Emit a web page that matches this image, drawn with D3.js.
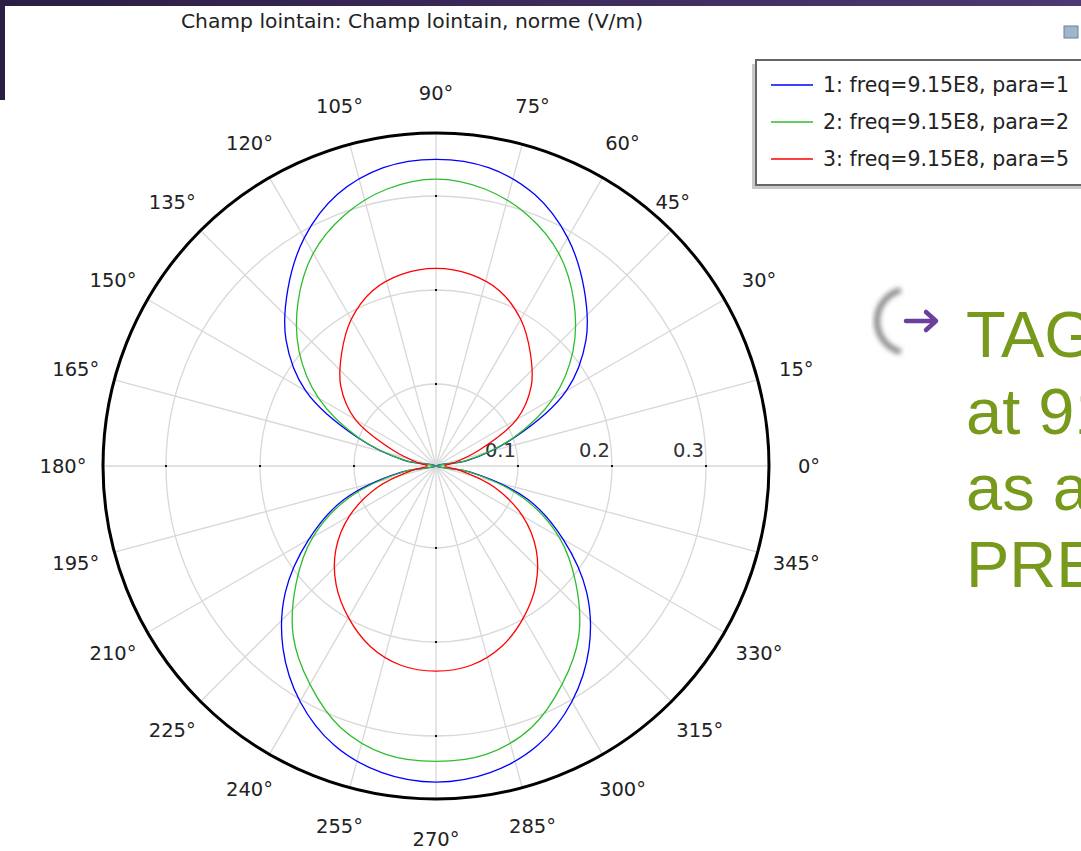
<!doctype html>
<html>
<head>
<meta charset="utf-8">
<script src="https://cdnjs.cloudflare.com/ajax/libs/d3/7.8.5/d3.min.js"></script>
<style>
  body { margin: 0; background: #fff; overflow: hidden; }
  svg { display: block; }
</style>
</head>
<body>
<svg id="chart" width="1081" height="851"></svg>
<script>
var angleDeg = [0,10,20,30,40,50,60,70,80,90,100,110,120,130,140,150,160,170,
                180,190,200,210,220,230,240,250,260,270,280,290,300,310,320,330,340,350];

// field norm (V/m) for each parameter value
var para1 = [0.013,0.047,0.102,0.173,0.221,0.258,0.293,0.320,0.335,0.339,0.335,0.320,0.293,0.258,0.221,0.173,0.102,0.047,
             0.013,0.050,0.117,0.169,0.222,0.266,0.302,0.329,0.344,0.349,0.344,0.329,0.302,0.266,0.222,0.169,0.117,0.050];
var para2 = [0.013,0.045,0.100,0.157,0.203,0.241,0.274,0.297,0.312,0.318,0.312,0.297,0.274,0.241,0.203,0.157,0.100,0.045,
             0.013,0.048,0.111,0.164,0.207,0.249,0.281,0.309,0.324,0.327,0.324,0.309,0.281,0.249,0.207,0.164,0.111,0.048];
var para5 = [0.022,0.032,0.061,0.112,0.145,0.169,0.193,0.211,0.220,0.223,0.220,0.211,0.193,0.169,0.145,0.112,0.061,0.032,
             0.022,0.038,0.079,0.119,0.152,0.178,0.199,0.217,0.228,0.231,0.228,0.217,0.199,0.178,0.152,0.119,0.079,0.038];

var seriesNames = ["1: freq=9.15E8, para=1", "2: freq=9.15E8, para=2", "3: freq=9.15E8, para=5"];
var seriesColors = ["#0000ff", "#2ebd2e", "#ff0000"];

var radialTicks = [0.1, 0.2, 0.3];
var angleTicks = [0,15,30,45,60,75,90,105,120,135,150,165,180,195,210,225,240,255,270,285,300,315,330,345];

var titleText = "Champ lointain: Champ lointain, norme (V/m)";
var slideLines = ["TAG", "at 91", "as a", "PRE"];

var svg = d3.select("#chart");
var font = "'DejaVu Sans', sans-serif";
var defs = svg.append("defs");

// slide frame (purple band top + left)
var grad = defs.append("linearGradient").attr("id", "band");
grad.append("stop").attr("offset", "0%").attr("stop-color", "#2c1d44");
grad.append("stop").attr("offset", "100%").attr("stop-color", "#4c3872");
svg.append("rect").attr("x", 0).attr("y", 0).attr("width", 1081).attr("height", 6).attr("fill", "url(#band)");
svg.append("rect").attr("x", 0).attr("y", 0).attr("width", 5).attr("height", 100).attr("fill", "#2c1d44");

// little toolbar icon, top right
svg.append("rect").attr("x", 1064).attr("y", 26).attr("width", 14).attr("height", 12)
    .attr("fill", "#9fb6cf").attr("stroke", "#6f7f94");

// title
svg.append("text").attr("x", 412).attr("y", 28).attr("text-anchor", "middle")
    .style("font-family", font).style("font-size", "20.3px").attr("fill", "#222")
    .text(titleText);

var cx = 436, cy = 466, R = 333;
var g = svg.append("g").attr("transform", "translate(" + cx + "," + cy + ")");

var r = d3.scaleLinear().domain([0.0128, 0.367]).range([0, R]).clamp(true);
var toRad = function(d) { return d * Math.PI / 180; };

// grid circles
g.selectAll("circle.grid").data(radialTicks).enter().append("circle")
    .attr("class", "grid").attr("r", d => r(d))
    .attr("fill", "none").attr("stroke", "#d8d8d8").attr("stroke-width", 1.3);

// spokes
g.selectAll("line.spoke").data(angleTicks).enter().append("line")
    .attr("class", "spoke")
    .attr("x1", 0).attr("y1", 0)
    .attr("x2", d => R * Math.cos(toRad(d)))
    .attr("y2", d => -R * Math.sin(toRad(d)))
    .attr("stroke", "#d8d8d8").attr("stroke-width", 1.3);

// tick dots on the main axes
var dots = [];
[0, 90, 180, 270].forEach(a => radialTicks.forEach(t => dots.push({a: a, t: t})));
g.selectAll("rect.tick").data(dots).enter().append("rect")
    .attr("class", "tick")
    .attr("x", d => r(d.t) * Math.cos(toRad(d.a)) - 1)
    .attr("y", d => -r(d.t) * Math.sin(toRad(d.a)) - 1)
    .attr("width", 2).attr("height", 2).attr("fill", "#111");

// radial tick labels
g.selectAll("text.rlab").data(radialTicks).enter().append("text")
    .attr("class", "rlab")
    .attr("x", d => r(d) - 2).attr("y", -9)
    .attr("text-anchor", "end")
    .style("font-family", font).style("font-size", "19.5px").attr("fill", "#333")
    .text(d => d3.format(".1f")(d));

// curves
var allSeries = [para1, para2, para5];
var line = d3.lineRadial()
    .angle(d => toRad(90 - d.deg))
    .radius(d => r(d.v))
    .curve(d3.curveCatmullRomClosed);

g.selectAll("path.series").data(allSeries).enter().append("path")
    .attr("class", "series")
    .attr("d", vals => line(vals.map((v, i) => ({deg: angleDeg[i], v: v}))))
    .attr("fill", "none")
    .attr("stroke", (d, i) => seriesColors[i])
    .attr("stroke-width", 1.3);

// outer ring
g.append("circle").attr("r", R).attr("fill", "none").attr("stroke", "#000").attr("stroke-width", 3);

// angle labels
var nudge = {45: -27};
g.selectAll("text.alab").data(angleTicks).enter().append("text")
    .attr("class", "alab")
    .attr("x", d => 373 * Math.cos(toRad(d)) + (nudge[d] || 0))
    .attr("y", d => -373 * Math.sin(toRad(d)))
    .attr("dy", "0.36em")
    .attr("text-anchor", "middle")
    .style("font-family", font).style("font-size", "19.5px").attr("fill", "#222")
    .text(d => d + "°");

// legend
var lg = svg.append("g").attr("transform", "translate(756,60)");
lg.append("rect").attr("x", -4).attr("y", 4).attr("width", 340).attr("height", 125).attr("fill", "#c8c8c8");
lg.append("rect").attr("x", 0).attr("y", 0).attr("width", 340).attr("height", 125)
    .attr("fill", "#fff").attr("stroke", "#666").attr("stroke-width", 2);
var rows = lg.selectAll("g.row").data(seriesNames).enter().append("g")
    .attr("class", "row")
    .attr("transform", (d, i) => "translate(0," + (25 + i * 37) + ")");
rows.append("line").attr("x1", 15).attr("x2", 57).attr("y1", 0).attr("y2", 0)
    .attr("stroke", (d, i) => seriesColors[i]).attr("stroke-width", 1.6);
rows.append("text").attr("x", 67).attr("y", 0).attr("dy", "0.36em")
    .style("font-family", font).style("font-size", "20.5px").attr("fill", "#222")
    .text(d => d);

// slide bullet icon + text
var ic = svg.append("g").attr("transform", "translate(909,321)");
var blur = defs.append("filter").attr("id", "soft");
blur.append("feGaussianBlur").attr("stdDeviation", 2.5);
ic.append("path")
    .attr("d", d3.arc()({innerRadius: 29, outerRadius: 35, startAngle: toRad(195), endAngle: toRad(345)}))
    .attr("fill", "#8a8a8a").attr("filter", "url(#soft)");
ic.append("path").attr("d", "M-3,0 L26,0 M17,-9 L27,0 L17,9")
    .attr("fill", "none").attr("stroke", "#6b3f9e").attr("stroke-width", 4.5)
    .attr("stroke-linecap", "round").attr("stroke-linejoin", "round");

svg.selectAll("text.slide").data(slideLines).enter().append("text")
    .attr("class", "slide")
    .attr("x", 966).attr("y", (d, i) => 357 + i * 76.5)
    .style("font-family", "'Liberation Sans', Arial, sans-serif").style("font-size", "65px")
    .attr("fill", "#789a1c")
    .text(d => d);
</script>
</body>
</html>
